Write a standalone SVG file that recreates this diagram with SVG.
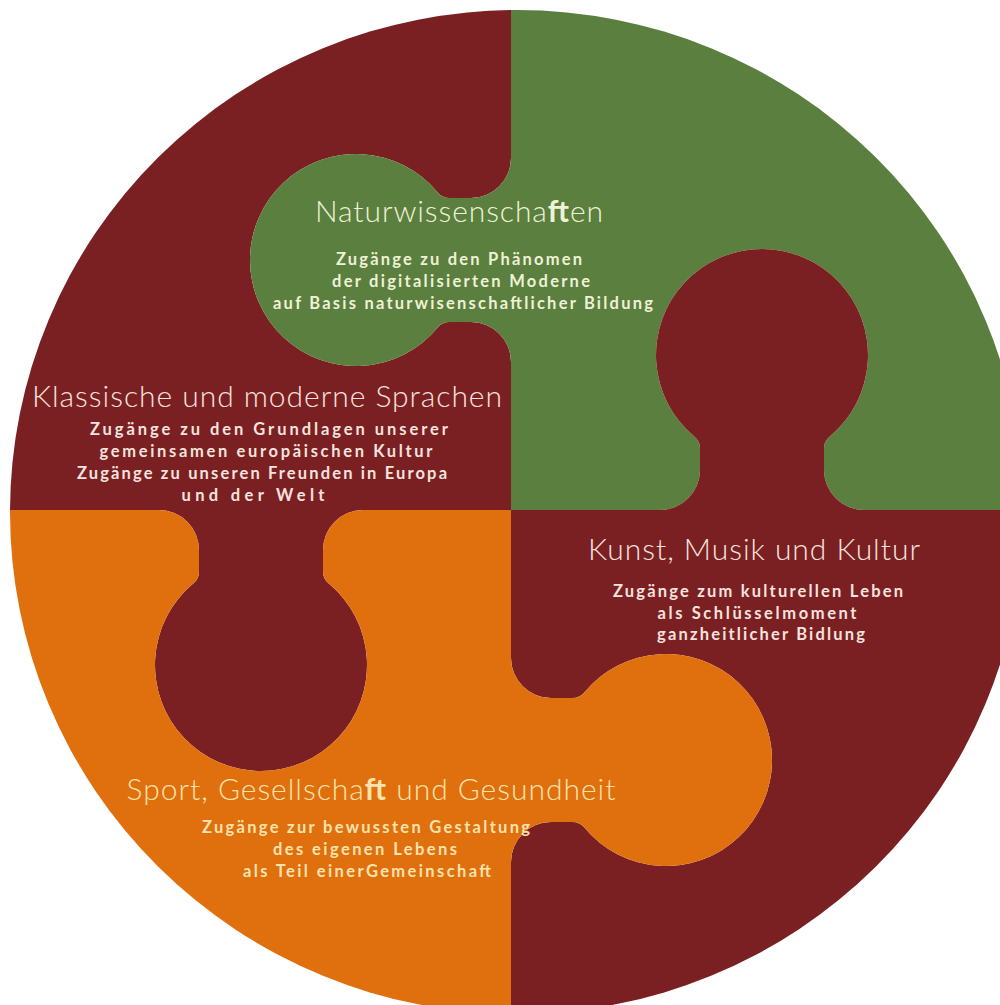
<svg xmlns="http://www.w3.org/2000/svg" width="1000" height="1005" viewBox="0 0 1000 1005">
<defs>
<clipPath id="disc"><ellipse cx="517" cy="512" rx="507" ry="502"/></clipPath>
<style>
.piece{clip-path:url(#disc)}
.red{fill:#7b2022}
.green{fill:#5b7f3e}
.orange{fill:#e0700e}
.title{font-family:Lato,"Open Sans","Liberation Sans",sans-serif;font-weight:300;font-size:30px;text-anchor:middle}
.sub{font-family:Lato,"Liberation Sans",sans-serif;font-weight:700;font-size:16.5px;text-anchor:middle}
.b{font-weight:700}
.tg{fill:#eef2d6}
.tr{fill:#f6e3df}
.to{fill:#fde3ad}
</style>
</defs>
<rect width="1000" height="1005" fill="#ffffff"/>

<g id="piece-sprachen">
<path class="piece red" d="M-10,-10 L511,-10 L511,158 A40,40 0 0 1 471,198 L449.3,198 A15,15 0 0 1 437.7,192.5 A106,106 0 1 0 437.7,327.5 A15,15 0 0 1 449.3,322 L471,322 A40,40 0 0 1 511,362 L511,510 L363,510 A40,40 0 0 0 323,550 L323,571.7 A15,15 0 0 0 328.5,583.3 A106,106 0 1 1 193.5,583.3 A15,15 0 0 0 199,571.7 L199,550 A40,40 0 0 0 159,510 L-10,510 Z"/>
<text class="title tr" x="267" y="407" textLength="470" lengthAdjust="spacing">Klassische und moderne Sprachen</text>
<text class="sub tr" x="269" y="435" textLength="358" lengthAdjust="spacing">Zugänge zu den Grundlagen unserer</text>
<text class="sub tr" x="266" y="457" textLength="333" lengthAdjust="spacing">gemeinsamen europäischen Kultur</text>
<text class="sub tr" x="262" y="479" textLength="370" lengthAdjust="spacing">Zugänge zu unseren Freunden in Europa</text>
<text class="sub tr" x="253" y="501" textLength="143" lengthAdjust="spacing">und der Welt</text>
</g>

<g id="piece-natur">
<path class="piece green" d="M511,-10 L1010,-10 L1010,510 L864,510 A40,40 0 0 1 824,470 L824,448.3 A15,15 0 0 1 829.5,436.7 A106,106 0 1 0 694.5,436.7 A15,15 0 0 1 700,448.3 L700,470 A40,40 0 0 1 660,510 L511,510 L511,362 A40,40 0 0 0 471,322 L449.3,322 A15,15 0 0 0 437.7,327.5 A106,106 0 1 1 437.7,192.5 A15,15 0 0 0 449.3,198 L471,198 A40,40 0 0 0 511,158 Z"/>
<text class="title tg" x="459" y="222" textLength="288" lengthAdjust="spacing">Naturwissenscha<tspan class="b">ft</tspan>en</text>
<text class="sub tg" x="459" y="265" textLength="246" lengthAdjust="spacing">Zugänge zu den Phänomen</text>
<text class="sub tg" x="461" y="287" textLength="258" lengthAdjust="spacing">der digitalisierten Moderne</text>
<text class="sub tg" x="463" y="309" textLength="380" lengthAdjust="spacing">auf Basis naturwisenschaftlicher Bildung</text>
</g>

<g id="piece-kunst">
<path class="piece red" d="M511,510 L660,510 A40,40 0 0 0 700,470 L700,448.3 A15,15 0 0 0 694.5,436.7 A106,106 0 1 1 829.5,436.7 A15,15 0 0 0 824,448.3 L824,470 A40,40 0 0 0 864,510 L1010,510 L1010,1010 L511,1010 L511,862 A40,40 0 0 1 551,822 L572.7,822 A15,15 0 0 1 584.3,827.5 A106,106 0 1 0 584.3,692.5 A15,15 0 0 1 572.7,698 L551,698 A40,40 0 0 1 511,658 Z"/>
<text class="title tr" x="754" y="560" textLength="332" lengthAdjust="spacing">Kunst, Musik und Kultur</text>
<text class="sub tr" x="758" y="597" textLength="290" lengthAdjust="spacing">Zugänge zum kulturellen Leben</text>
<text class="sub tr" x="757" y="619" textLength="199" lengthAdjust="spacing">als Schlüsselmoment</text>
<text class="sub tr" x="761" y="640" textLength="208" lengthAdjust="spacing">ganzheitlicher Bidlung</text>
</g>

<g id="piece-sport">
<path class="piece orange" d="M-10,510 L159,510 A40,40 0 0 1 199,550 L199,571.7 A15,15 0 0 1 193.5,583.3 A106,106 0 1 0 328.5,583.3 A15,15 0 0 1 323,571.7 L323,550 A40,40 0 0 1 363,510 L511,510 L511,658 A40,40 0 0 0 551,698 L572.7,698 A15,15 0 0 0 584.3,692.5 A106,106 0 1 1 584.3,827.5 A15,15 0 0 0 572.7,822 L551,822 A40,40 0 0 0 511,862 L511,1010 L-10,1010 Z"/>
<text class="title to" x="371" y="800" textLength="489" lengthAdjust="spacing">Sport, Gesellscha<tspan class="b">ft</tspan> und Gesundheit</text>
<text class="sub to" x="366" y="833" textLength="328" lengthAdjust="spacing">Zugänge zur bewussten Gestaltung</text>
<text class="sub to" x="365" y="855" textLength="184" lengthAdjust="spacing">des eigenen Lebens</text>
<text class="sub to" x="367" y="877" textLength="248" lengthAdjust="spacing">als Teil einerGemeinschaft</text>
</g>
</svg>
